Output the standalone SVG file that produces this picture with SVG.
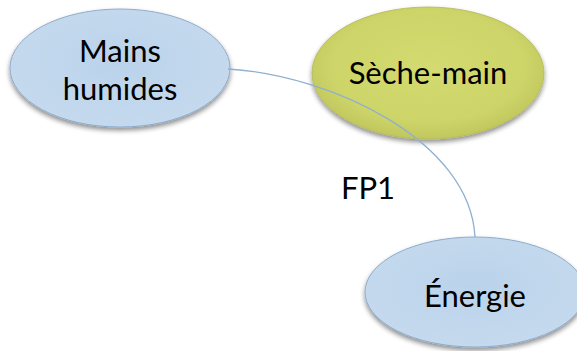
<svg xmlns="http://www.w3.org/2000/svg" width="577" height="351" viewBox="0 0 577 351">
<defs>
<radialGradient id="gBlue" cx="0.5" cy="0.45" r="0.6">
<stop offset="0" stop-color="#bad3eb"/>
<stop offset="1" stop-color="#c6daee"/>
</radialGradient>
<radialGradient id="gGreen" cx="0.5" cy="0.45" r="0.6">
<stop offset="0" stop-color="#d3da70"/>
<stop offset="0.7" stop-color="#cdd468"/>
<stop offset="1" stop-color="#bcc25a"/>
</radialGradient>
<filter id="sh" x="-20%" y="-20%" width="140%" height="150%">
<feGaussianBlur in="SourceAlpha" stdDeviation="2.5"/>
<feOffset dx="0" dy="3" result="b"/>
<feComponentTransfer><feFuncA type="linear" slope="0.45"/></feComponentTransfer>
<feMerge><feMergeNode/><feMergeNode in="SourceGraphic"/></feMerge>
</filter>
</defs>
<style>
.blue{fill:url(#gBlue);stroke:#8eaccb;stroke-width:1;filter:url(#sh)}
.green{fill:url(#gGreen);stroke:#b3b957;stroke-width:0.8;filter:url(#sh)}
.t{font-family:"Lato","Open Sans",sans-serif;font-size:31px;fill:#000;text-anchor:middle}
.edge{fill:none;stroke:#8fb0cf;stroke-width:1.3}
</style>
<g id="mains-humides">
<ellipse class="blue" cx="120" cy="68" rx="110" ry="59"/>
<text class="t" x="120" y="62">Mains</text>
<text class="t" x="120" y="100">humides</text>
</g>
<g id="seche-main">
<ellipse class="green" cx="428" cy="73" rx="116" ry="66"/>
<text class="t" x="428" y="84">Sèche-main</text>
</g>
<g id="energie">
<ellipse class="blue" cx="475" cy="292" rx="110" ry="55"/>
<text class="t" x="475" y="307">Énergie</text>
</g>
<g id="connectors">
<path class="edge" d="M228,69 C330,75 470,140 475,237"/>
</g>
<g id="labels">
<text class="t" x="368" y="199">FP1</text>
</g>
</svg>
